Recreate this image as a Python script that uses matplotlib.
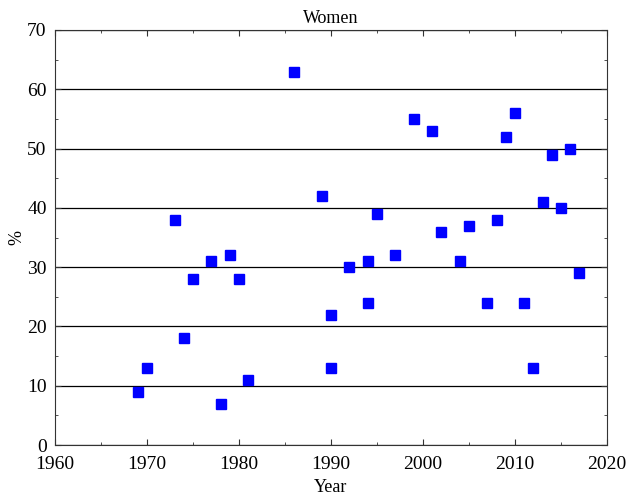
import matplotlib
matplotlib.use("Agg")
import matplotlib.pyplot as plt
from matplotlib.ticker import MultipleLocator

plt.rcParams['font.family'] = ['Liberation Serif', 'DejaVu Serif']

years = [1969, 1970, 1973, 1974, 1975, 1977, 1978, 1979, 1980, 1981,
         1986, 1989, 1990, 1990, 1992, 1994, 1994, 1995, 1997, 1999,
         2001, 2002, 2004, 2005, 2007, 2008, 2009, 2010, 2011, 2012,
         2013, 2014, 2015, 2016, 2017]
pct = [9, 13, 38, 18, 28, 31, 7, 32, 28, 11,
       63, 42, 22, 13, 30, 31, 24, 39, 32, 55,
       53, 36, 31, 37, 24, 38, 52, 56, 24, 13,
       41, 49, 40, 50, 29]

fig = plt.figure(figsize=(6.26, 4.96), dpi=100)
ax = fig.add_axes([55/626, 1-445/496, (607-55)/626, (445-30)/496])

ax.yaxis.grid(True, color='black', linewidth=0.9)
ax.set_axisbelow(True)
ax.plot(years, pct, linestyle='none', marker='s', markersize=7, color='blue')

ax.set_xlim(1960, 2020)
ax.set_ylim(0, 70)
ax.xaxis.set_major_locator(MultipleLocator(10))
ax.xaxis.set_minor_locator(MultipleLocator(5))
ax.yaxis.set_major_locator(MultipleLocator(10))
ax.yaxis.set_minor_locator(MultipleLocator(5))
ax.tick_params(which='both', direction='in', top=True, right=True,
               labelsize=14, color='#333333')
ax.tick_params(which='major', length=4)
ax.tick_params(which='minor', length=2)
ax.tick_params(axis='x', pad=8)
ax.tick_params(axis='y', pad=6)
for s in ax.spines.values():
    s.set_color('#333333')

ax.set_title('Women', fontsize=13, pad=5)
ax.set_xlabel('Year', fontsize=13, labelpad=4)
ax.set_ylabel('%', fontsize=13, labelpad=1)

fig.savefig('out.png', dpi=100)
